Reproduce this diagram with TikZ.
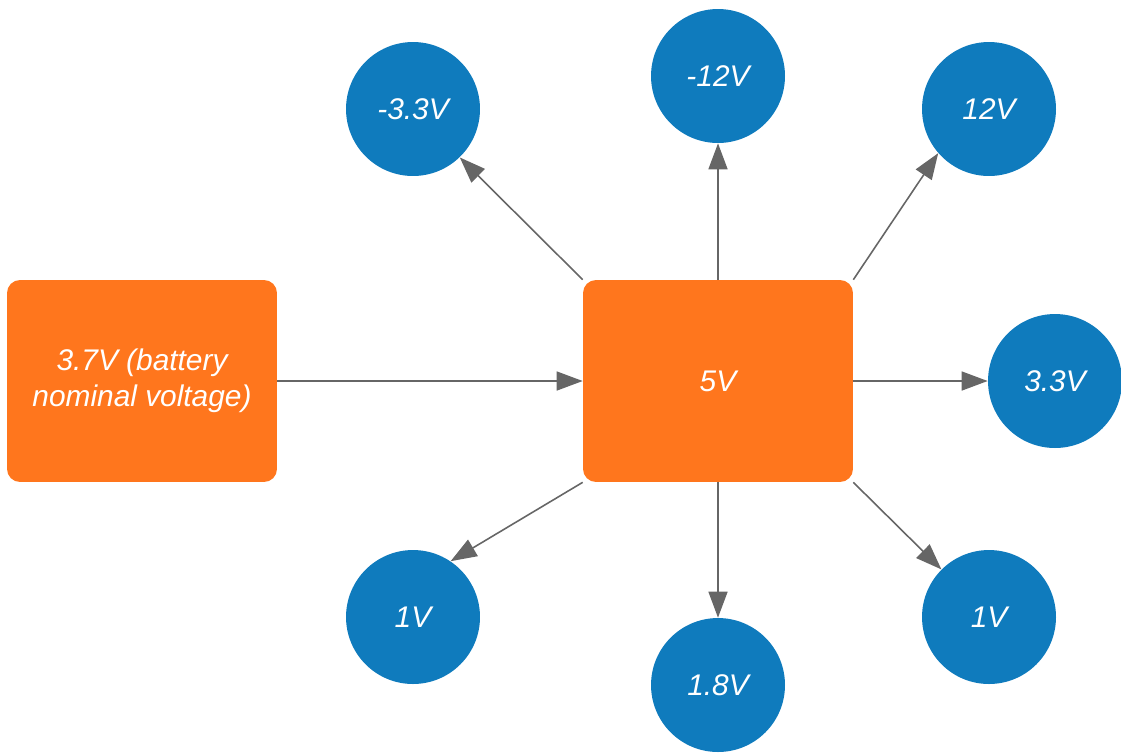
\documentclass[tikz,border=0pt]{standalone}
\usepackage{fontspec}
\setmainfont{Liberation Sans}
\usetikzlibrary{arrows.meta}

\definecolor{railorange}{RGB}{255,118,29}
\definecolor{railblue}{RGB}{15,123,189}
\definecolor{wiregray}{RGB}{102,102,102}

\begin{document}
\begin{tikzpicture}[x=0.02cm, y=-0.02cm,
    label text/.style={text=white, font=\fontsize{17}{20.5}\selectfont\itshape},
    supply/.style={label text, fill=railorange, rounded corners=0.26cm,
      minimum width=5.4cm, minimum height=4.04cm, inner sep=0pt, align=center},
    rail/.style={label text, circle, fill=railblue, minimum size=2.68cm, inner sep=0pt},
    feed/.style={wiregray, line width=0.9pt,
      -{Triangle[length=0.52cm, width=0.38cm]}}]

      \useasboundingbox (0, 0) rectangle (1121, 752);

      \node[supply] (bat) at (142, 381) {3.7V (battery\\nominal voltage)};
      \node[supply] (hub) at (718, 381) {5V};

      \node[rail] (m33) at (413, 109) {-3.3V};
      \node[rail] (m12) at (718, 76) {-12V};
      \node[rail] (p12) at (989, 109) {12V};
      \node[rail] (p33) at (1055, 381) {3.3V};
      \node[rail] (p1a) at (413, 617) {1V};
      \node[rail] (p18) at (718, 685) {1.8V};
      \node[rail] (p1b) at (989, 617) {1V};

      \path[feed]
      (bat.east) edge (hub.west)

      (hub.north west) edge (m33.314)
      (hub.north) edge (m12.south)
      (hub.north east) edge (p12.221)
      (hub.east) edge (p33.west)

      (hub.south west) edge (p1a.56)
      (hub.south) edge (p18.north)
      (hub.south east) edge (p1b.135);
    \end{tikzpicture}
\end{document}
